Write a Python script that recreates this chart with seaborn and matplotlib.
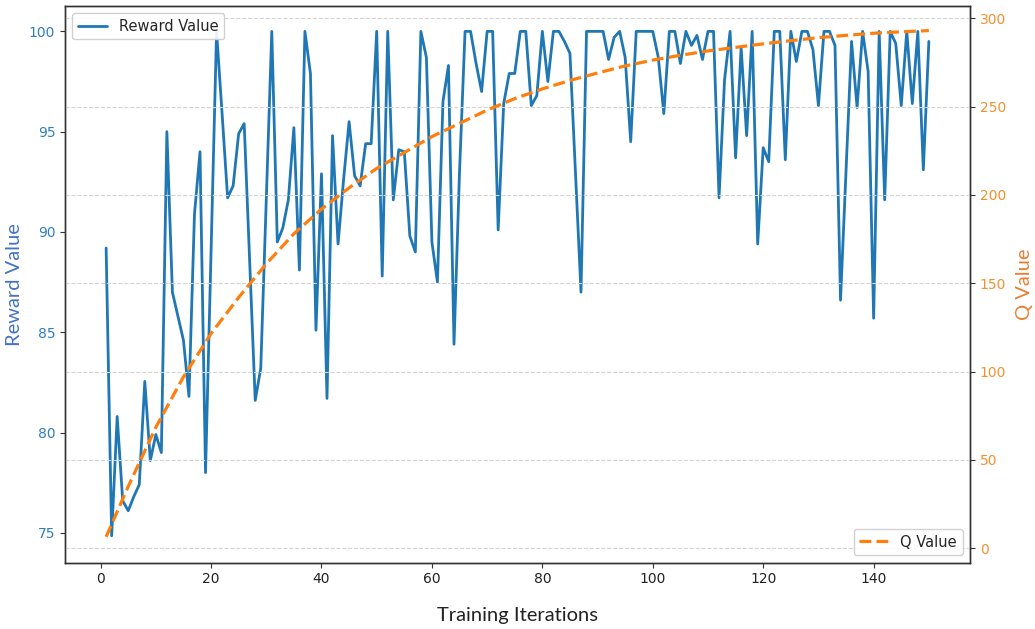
import matplotlib
matplotlib.use("Agg")
import matplotlib.pyplot as plt
import seaborn as sns
import pandas as pd

# ---------------- data ----------------
iterations = list(range(1, 151))
reward_values = [
    89.2, 74.85, 80.8, 76.6, 76.1, 76.8, 77.4, 82.55, 78.6, 79.9,
    79.0, 95.0, 87.0, 85.8, 84.6, 81.8, 90.9, 94.0, 78.0, 89.0,
    100.0, 95.9, 91.7, 92.3, 94.9, 95.4, 88.5, 81.6, 83.2, 91.6,
    100.0, 89.5, 90.2, 91.6, 95.2, 88.1, 100.0, 97.9, 85.1, 92.9,
    81.7, 94.8, 89.4, 92.6, 95.5, 92.8, 92.3, 94.4, 94.4, 100.0,
    87.8, 100.0, 91.6, 94.1, 94.0, 89.8, 89.0, 100.0, 98.7, 89.5,
    87.5, 96.5, 98.3, 84.4, 93.0, 100.0, 100.0, 98.4, 97.0, 100.0,
    100.0, 90.1, 96.4, 97.9, 97.9, 100.0, 100.0, 96.3, 96.8, 100.0,
    97.5, 100.0, 100.0, 99.5, 98.9, 93.0, 87.0, 100.0, 100.0, 100.0,
    100.0, 98.6, 99.7, 100.0, 98.7, 94.5, 100.0, 100.0, 100.0, 100.0,
    98.7, 95.9, 100.0, 100.0, 98.4, 100.0, 99.3, 99.8, 98.6, 100.0,
    100.0, 91.7, 97.6, 100.0, 93.7, 99.2, 94.8, 100.0, 89.4, 94.2,
    93.5, 100.0, 100.0, 93.6, 100.0, 98.5, 100.0, 100.0, 99.1, 96.3,
    100.0, 100.0, 99.3, 86.6, 93.1, 99.5, 96.2, 100.0, 98.0, 85.7,
    100.0, 91.6, 100.0, 99.4, 96.3, 100.0, 96.4, 100.0, 93.1, 99.5,
]
q_iterations = [1, 5, 10, 15, 20, 25, 30, 35, 40, 45, 50, 55, 60, 65, 70,
                75, 80, 85, 90, 95, 100, 105, 110, 115, 120, 125, 130, 135,
                140, 145, 150]
q_values = [6.5, 35.0, 68.5, 97.0, 121.5, 142.0, 161.0, 178.0, 192.0, 204.0,
            215.0, 224.0, 233.0, 240.5, 248.0, 254.5, 260.0, 264.8, 269.0,
            273.0, 276.3, 279.0, 281.5, 283.5, 285.5, 287.3, 289.0, 290.3,
            291.5, 292.3, 293.0]
q_ticks = [0, 50, 100, 150, 200, 250, 300]
reward_ticks = [75, 80, 85, 90, 95, 100]
x_ticks = [0, 20, 40, 60, 80, 100, 120, 140]

reward_df = pd.DataFrame({"Training Iterations": iterations,
                          "Reward Value": reward_values})
q_df = pd.DataFrame({"Training Iterations": q_iterations,
                     "Q Value": q_values})

# ---------------- style ----------------
sns.set_style("ticks")
plt.rcParams["font.family"] = ["DejaVu Sans"]

BLUE = "#1f77b4"
ORANGE = "#ff7f0e"

fig = plt.figure(figsize=(10.35, 6.29), dpi=100)
ax1 = fig.add_axes([65 / 1035, 1 - 562.7 / 629, 905 / 1035, 557.2 / 629])
ax2 = ax1.twinx()

sns.lineplot(data=reward_df, x="Training Iterations", y="Reward Value",
             ax=ax1, color=BLUE, linewidth=2.0, label="Reward Value")
sns.lineplot(data=q_df, x="Training Iterations", y="Q Value",
             ax=ax2, color=ORANGE, linewidth=2.3, linestyle="--",
             label="Q Value")

ax1.set_xlim(-6.45, 157.45)
ax1.set_ylim(73.51, 101.29)
ax2.set_ylim(-8.15, 307.2)
ax1.set_xticks(x_ticks)
ax1.set_yticks(reward_ticks)
ax2.set_yticks(q_ticks)

for a in (ax1, ax2):
    for s in a.spines.values():
        s.set_visible(True)
        s.set_color("#333333")
        s.set_linewidth(1.0)

ax1.tick_params(axis="x", labelsize=10, colors="#333333", labelcolor="#222222")
ax1.tick_params(axis="y", labelsize=10, colors="#333333", labelcolor="#2f7fc1")
ax2.tick_params(axis="y", labelsize=10, colors="#333333", labelcolor="#f5902e")

ax2.grid(axis="y", linestyle="--", color="#d4d4d4", linewidth=0.8)
ax1.grid(False)

ax1.set_xlabel("Training Iterations", fontsize=14.5, family=["Lato", "DejaVu Sans"],
               color="#222222", labelpad=15)
ax1.set_ylabel("Reward Value", fontsize=14.5, family=["Lato", "DejaVu Sans"],
               color="#4472C4", labelpad=4)
ax2.set_ylabel("Q Value", fontsize=14.5, family=["Lato", "DejaVu Sans"],
               color="#ED7D31", labelpad=7)

# legends (both on top axes so the grid stays beneath them)
h1, l1 = ax1.get_legend_handles_labels()
h2, l2 = ax2.get_legend_handles_labels()
if ax1.get_legend() is not None:
    ax1.get_legend().remove()
leg1 = ax2.legend(h1, l1, loc="upper left", fontsize=10.5, framealpha=0.9,
                  borderaxespad=0.5)
ax2.add_artist(leg1)
ax2.legend(h2, l2, loc="lower right", fontsize=10.5, framealpha=0.9,
           borderaxespad=0.5)

fig.savefig("out.png", dpi=100)
